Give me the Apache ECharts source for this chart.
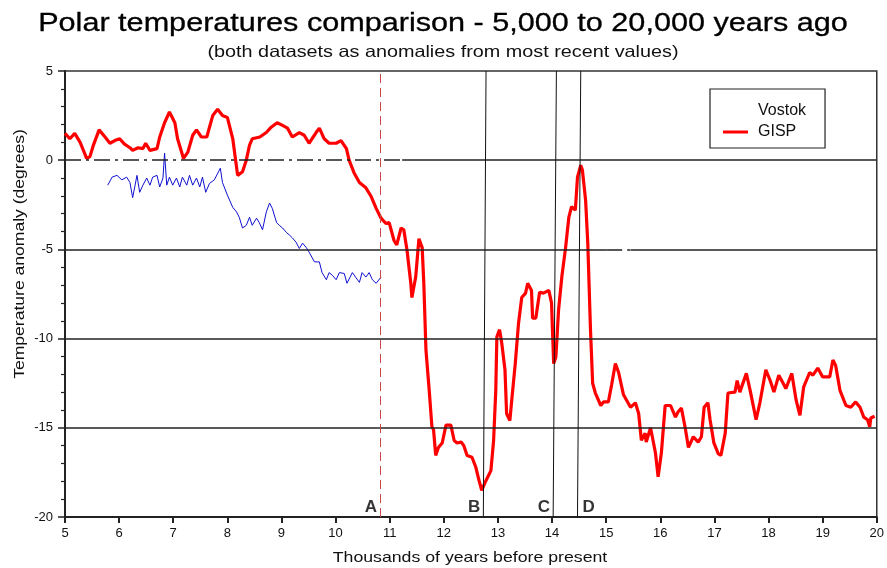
<!DOCTYPE html>
<html>
<head>
<meta charset="utf-8">
<script src="https://cdn.jsdelivr.net/npm/echarts@6/dist/echarts.min.js"></script>
<style>html,body{margin:0;padding:0;background:#fff}#c{width:887px;height:568px}</style>
</head>
<body>
<div id="c"></div>
<script>
const titleText = 'Polar temperatures comparison - 5,000 to 20,000 years ago';
const subtitleText = '(both datasets as anomalies from most recent values)';
const xAxisTitle = 'Thousands of years before present';
const yAxisTitle = 'Temperature anomaly (degrees)';
const seriesNames = ['Vostok', 'GISP'];

const gispYears = [5.00,5.09,5.18,5.28,5.40,5.46,5.52,5.63,5.74,5.83,5.92,6.01,6.10,6.20,6.25,6.35,6.44,6.49,6.57,6.70,6.75,6.84,6.93,7.03,7.08,7.19,7.27,7.36,7.43,7.52,7.62,7.67,7.73,7.82,7.91,8.00,8.10,8.19,8.28,8.35,8.41,8.46,8.60,8.72,8.81,8.92,9.02,9.11,9.20,9.33,9.42,9.51,9.64,9.70,9.79,9.88,10.01,10.10,10.20,10.25,10.34,10.44,10.56,10.66,10.75,10.84,10.93,10.99,11.08,11.13,11.21,11.26,11.32,11.39,11.41,11.48,11.54,11.60,11.63,11.67,11.73,11.78,11.81,11.85,11.90,11.97,12.04,12.13,12.19,12.24,12.32,12.37,12.43,12.52,12.59,12.65,12.70,12.78,12.87,12.92,12.96,12.98,13.03,13.07,13.13,13.16,13.22,13.26,13.32,13.38,13.44,13.51,13.55,13.62,13.64,13.70,13.77,13.84,13.94,13.99,14.03,14.07,14.12,14.18,14.25,14.31,14.36,14.43,14.47,14.53,14.56,14.62,14.66,14.71,14.75,14.80,14.90,14.95,15.04,15.10,15.17,15.23,15.32,15.45,15.54,15.60,15.65,15.72,15.74,15.82,15.91,15.96,16.02,16.09,16.19,16.28,16.33,16.39,16.46,16.52,16.61,16.70,16.76,16.81,16.88,16.92,16.99,17.07,17.12,17.20,17.25,17.38,17.42,17.47,17.59,17.66,17.77,17.84,17.95,18.03,18.10,18.19,18.27,18.32,18.43,18.51,18.58,18.65,18.76,18.82,18.91,19.00,19.13,19.19,19.24,19.32,19.43,19.52,19.61,19.69,19.76,19.83,19.87,19.89,19.96];
const gispTemp = [1.5,1.2,1.5,1.0,0.1,0.2,0.8,1.7,1.3,0.95,1.1,1.2,0.9,0.7,0.55,0.7,0.65,0.95,0.55,0.65,1.3,2.1,2.7,2.1,1.2,0.1,0.45,1.4,1.7,1.3,1.3,1.85,2.5,2.85,2.5,2.4,1.2,-0.85,-0.65,0,0.85,1.2,1.3,1.55,1.85,2.1,1.95,1.8,1.3,1.55,1.4,0.95,1.55,1.8,1.2,0.95,0.95,1.1,0.65,0,-0.7,-1.25,-1.55,-2.05,-2.7,-3.25,-3.55,-3.5,-4.5,-4.75,-3.8,-3.9,-5.05,-6.9,-7.7,-6.55,-4.4,-4.9,-6.9,-10.65,-12.9,-14.95,-15.1,-16.55,-16.1,-15.85,-14.85,-14.85,-15.7,-15.85,-15.8,-16.0,-16.55,-16.65,-17.2,-17.95,-18.5,-17.95,-17.4,-15.7,-12.9,-9.9,-9.5,-10.25,-11.75,-14.2,-14.6,-13.3,-11.4,-9.15,-7.7,-7.45,-6.9,-7.3,-8.85,-8.85,-7.4,-7.45,-7.3,-8.0,-11.4,-11.05,-8.4,-6.55,-4.9,-3.2,-2.6,-2.8,-0.95,-0.28,-0.55,-2.25,-4.65,-9.5,-12.5,-13.05,-13.75,-13.55,-13.55,-12.6,-11.4,-11.9,-13.15,-13.85,-13.6,-14.2,-15.7,-15.3,-15.8,-15.0,-16.4,-17.75,-16.4,-13.75,-13.75,-14.4,-14.1,-13.9,-15.0,-16.1,-15.5,-15.8,-15.5,-13.85,-13.6,-14.55,-15.85,-16.45,-16.55,-15.3,-13.05,-13.0,-12.35,-13.0,-11.95,-12.9,-14.55,-13.6,-11.75,-12.35,-13.0,-12.05,-12.5,-12.8,-11.95,-13.45,-14.3,-12.7,-11.9,-12.05,-11.65,-12.15,-12.15,-11.2,-11.5,-12.9,-13.75,-13.85,-13.55,-13.85,-14.4,-14.55,-14.95,-14.45,-14.35];

const vostokYears = [5.79,5.87,5.96,6.05,6.14,6.20,6.25,6.33,6.38,6.44,6.51,6.57,6.62,6.70,6.75,6.81,6.84,6.88,6.93,6.99,7.06,7.12,7.17,7.25,7.30,7.36,7.43,7.49,7.54,7.60,7.67,7.76,7.87,7.91,8.00,8.10,8.17,8.22,8.28,8.35,8.41,8.46,8.54,8.59,8.65,8.72,8.78,8.83,8.91,8.96,9.02,9.09,9.15,9.20,9.27,9.33,9.39,9.46,9.51,9.61,9.70,9.75,9.83,9.88,9.94,10.01,10.07,10.16,10.21,10.31,10.38,10.44,10.49,10.56,10.62,10.68,10.75,10.84];
const vostokTemp = [-1.4,-0.95,-0.85,-1.1,-0.95,-1.25,-2.1,-0.85,-1.8,-1.4,-1.0,-1.4,-0.95,-0.85,-1.5,-1.0,0.4,-1.4,-0.95,-1.4,-1.0,-1.5,-0.95,-1.4,-0.85,-1.4,-1.0,-1.5,-0.95,-1.8,-1.3,-1.1,-0.45,-1.25,-1.95,-2.65,-2.9,-3.2,-3.8,-3.65,-3.2,-3.65,-3.25,-3.5,-3.9,-2.9,-2.4,-2.7,-3.5,-3.65,-3.8,-4.05,-4.2,-4.35,-4.6,-4.95,-4.65,-4.9,-5.15,-5.7,-5.7,-6.3,-6.7,-6.3,-6.45,-6.7,-6.3,-6.35,-6.9,-6.3,-6.6,-6.85,-6.3,-6.55,-6.3,-6.7,-6.9,-6.55];

const markerNames = ['A', 'B', 'C', 'D'];
const markerTopYears = [10.82, 12.78, 14.08, 14.53];
const markerBottomYears = [10.82, 12.73, 14.02, 14.47];
const markerLabelSide = ['left', 'left', 'left', 'right'];
const markerLabelLevel = -19.45;

const gridLevels = [-5, -10, -15];

const pair = (xs, ys) => xs.map((x, i) => [x, ys[i]]);

const solid = { color: '#222', width: 1.5, type: 'solid' };
const dashDot = { color: '#222', width: 1.5, type: [16, 5, 3, 5] };
const refLines = [];
refLines.push([{ coord: [5, 0], lineStyle: dashDot }, { coord: [11.23, 0] }]);
refLines.push([{ coord: [11.23, 0], lineStyle: solid }, { coord: [20, 0] }]);
refLines.push([{ coord: [5, -5], lineStyle: solid }, { coord: [15.0, -5] }]);
refLines.push([{ coord: [15.0, -5], lineStyle: dashDot }, { coord: [15.45, -5] }]);
refLines.push([{ coord: [15.45, -5], lineStyle: solid }, { coord: [20, -5] }]);
gridLevels.slice(1).forEach(v => refLines.push([{ coord: [5, v], lineStyle: solid }, { coord: [20, v] }]));
markerNames.forEach((n, i) => {
  const st = i === 0 ? { color: '#c84848', width: 1, type: [9, 5] } : { color: '#111', width: 1, type: 'solid' };
  refLines.push([{ coord: [markerBottomYears[i], -20], lineStyle: st }, { coord: [markerTopYears[i], 5] }]);
});

const chart = echarts.init(document.getElementById('c'), null, { renderer: 'canvas' });
const FONT = '"Liberation Sans", Arial, sans-serif';
chart.setOption({
  animation: false,
  backgroundColor: '#fff',
  textStyle: { fontFamily: FONT },
  grid: { left: 65, right: 8, top: 71, bottom: 51, show: true, borderColor: '#333', borderWidth: 1.5, backgroundColor: 'transparent' },
  legend: {
    data: [
      { name: seriesNames[0], icon: 'rect', itemStyle: { opacity: 0, color: '#fff' } },
      { name: seriesNames[1], icon: 'rect', itemStyle: { color: '#ff0000' } }
    ],
    orient: 'vertical', left: 710, top: 89,
    padding: [14, 19, 8, 13],
    itemWidth: 25, itemHeight: 3, itemGap: 5,
    borderColor: '#222', borderWidth: 1.2,
    selectedMode: false,
    textStyle: { fontFamily: FONT, fontSize: 16, color: '#111', padding: [0, 0, 0, 5], lineHeight: 16 }
  },
  xAxis: {
    type: 'value', min: 5, max: 20, interval: 1,
    axisLine: { onZero: false, lineStyle: { color: '#222', width: 2 } },
    axisTick: { show: true, length: 6, lineStyle: { color: '#222', width: 2 } },
    axisLabel: { color: '#111', fontSize: 13, margin: 10, fontFamily: FONT },
    splitLine: { show: false }
  },
  yAxis: {
    type: 'value', min: -20, max: 5, interval: 5,
    axisLine: { show: true, onZero: false, lineStyle: { color: '#222', width: 2 } },
    axisTick: { show: true, length: 7, lineStyle: { color: '#222', width: 1.5 } },
    minorTick: { show: true, splitNumber: 5, length: 4, lineStyle: { color: '#222', width: 1.2 } },
    axisLabel: { color: '#111', fontSize: 13, margin: 12, fontFamily: FONT },
    splitLine: { show: false }
  },
  graphic: [
    { type: 'text', x: 443, y: 24, scaleX: 1.2, style: { text: titleText, font: '25.5px ' + FONT, textAlign: 'center', textVerticalAlign: 'middle', fill: '#000', stroke: '#000', lineWidth: 0.3 } },
    { type: 'text', x: 443, y: 52, scaleX: 1.2, style: { text: subtitleText, font: '16.5px ' + FONT, textAlign: 'center', textVerticalAlign: 'middle', fill: '#111' } },
    { type: 'text', x: 470, y: 558, scaleX: 1.18, style: { text: xAxisTitle, font: '15px ' + FONT, textAlign: 'center', textVerticalAlign: 'middle', fill: '#111' } },
    { type: 'text', x: 20, y: 254, rotation: Math.PI / 2, scaleX: 1.17, style: { text: yAxisTitle, font: '15px ' + FONT, textAlign: 'center', textVerticalAlign: 'middle', fill: '#111' } }
  ],
  series: [
    {
      name: 'refs', type: 'line', data: [[5, 0]], symbol: 'none', lineStyle: { opacity: 0 }, silent: true, z: 1,
      markLine: { silent: true, symbol: ['none', 'none'], label: { show: false }, animation: false, data: refLines }
    },
    {
      name: seriesNames[0], type: 'line', data: pair(vostokYears, vostokTemp), symbol: 'none', z: 3,
      lineStyle: { color: '#1010d0', width: 1 }, itemStyle: { color: '#1010d0' }
    },
    {
      name: seriesNames[1], type: 'line', data: pair(gispYears, gispTemp), symbol: 'none', z: 4,
      lineStyle: { color: '#ff0000', width: 3.2 }, itemStyle: { color: '#ff0000' }
    },
    {
      name: 'markers', type: 'scatter', symbolSize: 0, silent: true, z: 5,
      data: markerNames.map((n, i) => ({
        name: n, value: [markerBottomYears[i], markerLabelLevel],
        label: { position: markerLabelSide[i], distance: markerLabelSide[i] === 'left' ? 3 : 5 }
      })),
      label: { show: true, formatter: p => p.name, fontFamily: FONT, fontWeight: 'bold', fontSize: 17, color: '#000' }
    }
  ]
});
</script>
</body>
</html>
